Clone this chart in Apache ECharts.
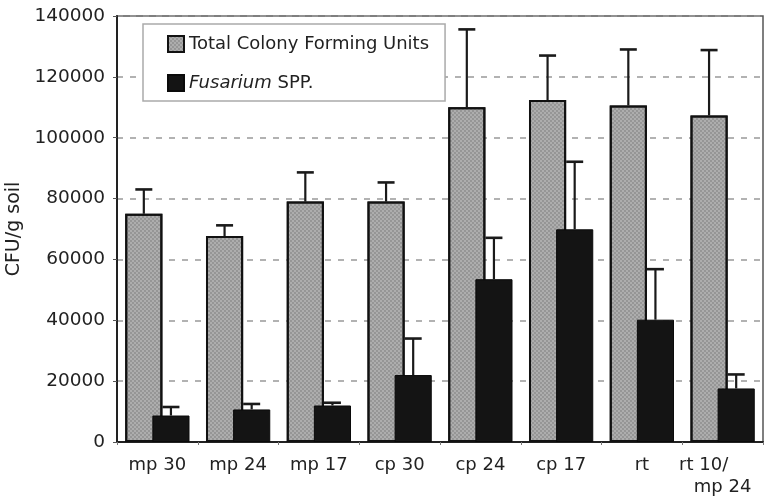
<!DOCTYPE html>
<html lang="en">
<head>
    <meta charset="UTF-8" />
    <title>CFU per g soil</title>
    <script src="https://cdn.jsdelivr.net/npm/echarts@6/dist/echarts.min.js"></script>
    <style>
        html, body { margin: 0; padding: 0; background: #fff; }
        #chart { width: 765px; height: 498px; }
    </style>
</head>
<body>
    <div id="chart"></div>

    <script>
        // data
        let categories = ["mp 30", "mp 24", "mp 17", "cp 30", "cp 24", "cp 17", "rt", "rt 10/\nmp 24"];
        let totalCfu = [75000, 67700, 79000, 79000, 110000, 112400, 110600, 107300];
        let totalSd = [8000, 3500, 9600, 6300, 25600, 14600, 18400, 21500];
        let fusarium = [8700, 10700, 12000, 22000, 53500, 69900, 40200, 17600];
        let fusariumSd = [2800, 1800, 900, 12000, 13600, 22200, 16600, 4600];
        let yTicks = [0, 20000, 40000, 60000, 80000, 100000, 120000, 140000];

        let font = "DejaVu Sans";
        let barPct = 0.46;
        let gapPct = -0.27;

        // error bars go on top of bars, offset to the matching bar
        function errorSeries(values, sds, which) {
            let data = values.map((v, i) => [i, v, v + sds[i]]);
            return {
                type: "custom",
                z: 5,
                silent: true,
                data: data,
                renderItem: function (params, api) {
                    let catW = api.size([1, 0])[0];
                    let bw = catW * barPct;
                    let total = 2 * bw + gapPct * bw;
                    let off = which == 0 ? -total / 2 + bw / 2 : total / 2 - bw / 2;
                    let base = api.coord([api.value(0), api.value(1)]);
                    let top = api.coord([api.value(0), api.value(2)]);
                    let x = base[0] + off;
                    let cap = 8.5;
                    return {
                        type: "group",
                        children: [
                            {
                                type: "line",
                                shape: { x1: x, y1: base[1], x2: x, y2: top[1] },
                                style: { stroke: "#1a1a1a", lineWidth: 2.2 },
                            },
                            {
                                type: "line",
                                shape: { x1: x - cap, y1: top[1], x2: x + cap, y2: top[1] },
                                style: { stroke: "#1a1a1a", lineWidth: 2.6 },
                            },
                        ],
                    };
                },
            };
        }

        let myChart = echarts.init(document.getElementById("chart"));

        let option = {
            animation: false,
            grid: {
                left: 117,
                right: 2,
                top: 16,
                bottom: 56,
                containLabel: false,
                outerBoundsMode: "none",
                show: true,
                borderColor: "#555",
                borderWidth: 1.5,
            },
            legend: {
                orient: "vertical",
                left: 143,
                top: 24,
                padding: [10, 16, 8, 24],
                icon: "rect",
                itemWidth: 16,
                itemHeight: 16,
                itemGap: 19,
                backgroundColor: "#fff",
                borderColor: "#aaa",
                borderWidth: 1.5,
                data: ["Total Colony Forming Units", "Fusarium SPP."],
                formatter: function (name) {
                    if (name == "Fusarium SPP.") return "{i|Fusarium} SPP.";
                    return name;
                },
                textStyle: {
                    fontFamily: font,
                    fontSize: 18,
                    lineHeight: 20,
                    color: "#222",
                    rich: {
                        i: { fontFamily: font, fontSize: 18, fontStyle: "italic", color: "#222" },
                    },
                },
            },
            xAxis: {
                type: "category",
                data: categories,
                axisLine: { lineStyle: { color: "#222", width: 2 } },
                axisTick: { show: true, length: 3, lineStyle: { color: "#777" } },
                axisLabel: {
                    fontFamily: font,
                    fontSize: 18,
                    lineHeight: 22,
                    margin: 12,
                    color: "#222",
                    interval: 0,
                    formatter: function (v) {
                        if (v.indexOf("\n") >= 0) {
                            let parts = v.split("\n");
                            return "{a|" + parts[0] + "}\n{b|" + parts[1] + "}";
                        }
                        return v;
                    },
                    rich: {
                        a: { fontFamily: font, fontSize: 18, lineHeight: 22, color: "#222", padding: [0, 38, 0, 0] },
                        b: { fontFamily: font, fontSize: 18, lineHeight: 22, color: "#222" },
                    },
                },
            },
            yAxis: {
                type: "value",
                min: yTicks[0],
                max: yTicks[yTicks.length - 1],
                interval: yTicks[1] - yTicks[0],
                name: "CFU/g soil",
                nameLocation: "middle",
                nameGap: 93,
                nameTextStyle: { fontFamily: font, fontSize: 19, color: "#222" },
                axisLine: { show: true, lineStyle: { color: "#222", width: 2 } },
                axisTick: { show: true, length: 4, lineStyle: { color: "#555" } },
                axisLabel: {
                    fontFamily: font,
                    fontSize: 18.5,
                    color: "#222",
                    margin: 12,
                    formatter: function (v) { return String(v); },
                },
                splitLine: {
                    show: true,
                    lineStyle: { color: "#999", width: 1.5, type: [6, 7] },
                },
            },
            series: [
                {
                    name: "Total Colony Forming Units",
                    type: "bar",
                    data: totalCfu,
                    barWidth: barPct * 100 + "%",
                    barGap: gapPct * 100 + "%",
                    itemStyle: {
                        color: "#adadad",
                        borderColor: "#111",
                        borderWidth: 2,
                        decal: {
                            symbol: "circle",
                            symbolSize: 0.9,
                            color: "rgba(60,60,60,0.3)",
                            dashArrayX: [[2, 2], [0, 2, 2, 0]],
                            dashArrayY: [2, 0],
                            rotation: 0,
                        },
                    },
                },
                {
                    name: "Fusarium SPP.",
                    type: "bar",
                    data: fusarium,
                    barWidth: barPct * 100 + "%",
                    barGap: gapPct * 100 + "%",
                    itemStyle: { color: "#141414", borderColor: "#0a0a0a", borderWidth: 1 },
                },
                errorSeries(totalCfu, totalSd, 0),
                errorSeries(fusarium, fusariumSd, 1),
            ],
        };

        myChart.setOption(option);
    </script>
</body>
</html>
